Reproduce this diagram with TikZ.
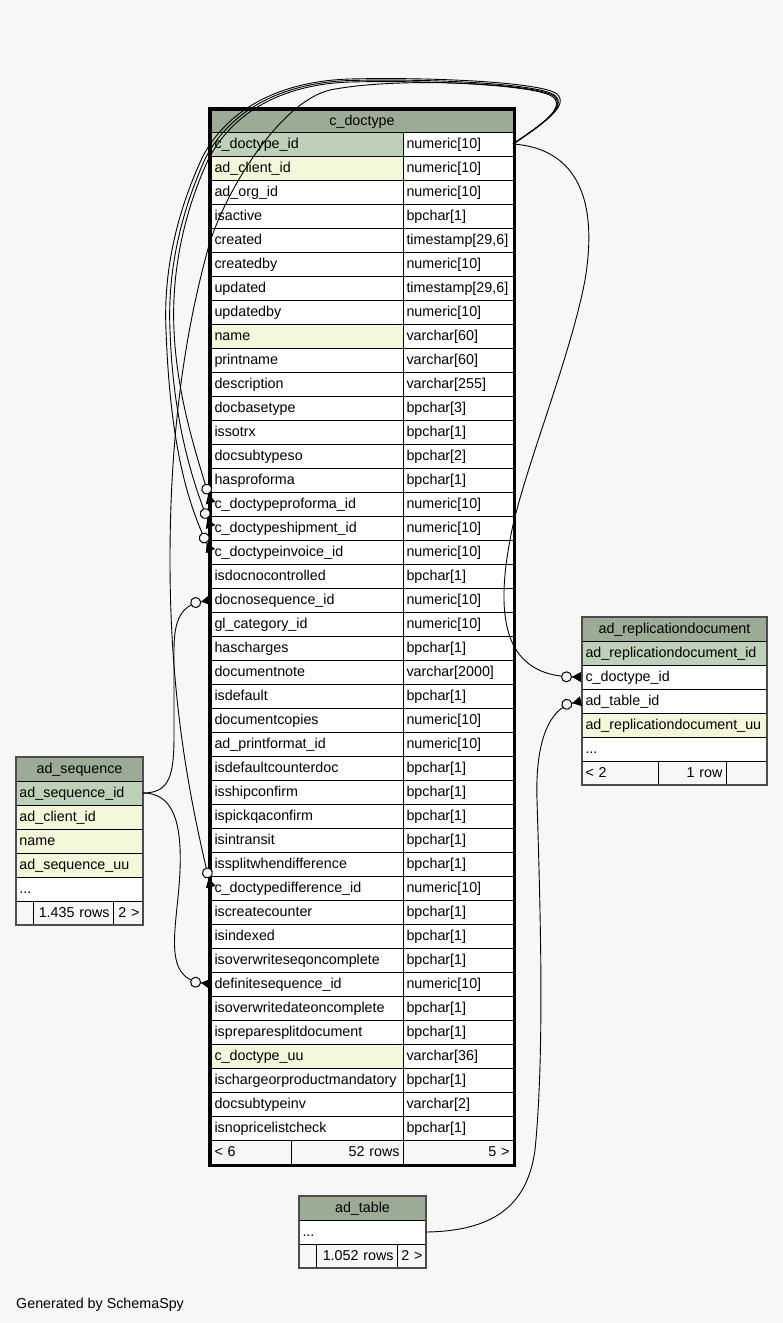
\documentclass[tikz,border=0pt]{standalone}
\usepackage{fontspec}
\setmainfont{Liberation Sans}
\usetikzlibrary{arrows.meta}
\definecolor{hdr}{HTML}{9BAB96}
\definecolor{pkc}{HTML}{BED1B8}
\definecolor{idx}{HTML}{F4F7DA}
\definecolor{bgc}{HTML}{F7F7F7}
\newcommand\cellfont{\fontsize{14.3}{16}\selectfont}
\newcommand\CDrow[4]{%
  \node[cellbase, fill=#4, text width=185pt, align=left] (cdt-#1) at (211,{132+24*#1}) {#2};
  \node[cellbase, fill=white, text width=103pt, align=left] (cdtt-#1) at (403,{132+24*#1}) {#3};
}
\begin{document}
\begin{tikzpicture}[x=1pt,y=-1pt,
  cellbase/.style={draw=black, line width=0.8pt, minimum height=24pt, inner xsep=3.5pt, inner ysep=0pt,
    text height=11pt, text depth=2pt, anchor=north west, font=\cellfont, outer sep=0pt},
  fk/.style={draw=black, line width=0.9pt, shorten >=1pt,
    -{Circle[fill=bgc, length=11pt, width=11pt, line width=1pt] Triangle[reversed, length=9pt, width=10pt]}},
  minorborder/.style={draw=black!70, line width=1.3pt},
  majorborder/.style={draw=black, line width=3pt}]
\useasboundingbox (0,0) rectangle (783,1323);
\fill[bgc] (0,0) rectangle (783,1323);

% ---------------- c_doctype ----------------
\node[cellbase, fill=hdr, minimum width=302pt, minimum height=22pt, align=center] (cdt-h) at (211,110) {c\_doctype};
\CDrow{0}{c\_doctype\_id}{numeric[10]}{pkc}
\CDrow{1}{ad\_client\_id}{numeric[10]}{idx}
\CDrow{2}{ad\_org\_id}{numeric[10]}{white}
\CDrow{3}{isactive}{bpchar[1]}{white}
\CDrow{4}{created}{timestamp[29,6]}{white}
\CDrow{5}{createdby}{numeric[10]}{white}
\CDrow{6}{updated}{timestamp[29,6]}{white}
\CDrow{7}{updatedby}{numeric[10]}{white}
\CDrow{8}{name}{varchar[60]}{idx}
\CDrow{9}{printname}{varchar[60]}{white}
\CDrow{10}{description}{varchar[255]}{white}
\CDrow{11}{docbasetype}{bpchar[3]}{white}
\CDrow{12}{issotrx}{bpchar[1]}{white}
\CDrow{13}{docsubtypeso}{bpchar[2]}{white}
\CDrow{14}{hasproforma}{bpchar[1]}{white}
\CDrow{15}{c\_doctypeproforma\_id}{numeric[10]}{white}
\CDrow{16}{c\_doctypeshipment\_id}{numeric[10]}{white}
\CDrow{17}{c\_doctypeinvoice\_id}{numeric[10]}{white}
\CDrow{18}{isdocnocontrolled}{bpchar[1]}{white}
\CDrow{19}{docnosequence\_id}{numeric[10]}{white}
\CDrow{20}{gl\_category\_id}{numeric[10]}{white}
\CDrow{21}{hascharges}{bpchar[1]}{white}
\CDrow{22}{documentnote}{varchar[2000]}{white}
\CDrow{23}{isdefault}{bpchar[1]}{white}
\CDrow{24}{documentcopies}{numeric[10]}{white}
\CDrow{25}{ad\_printformat\_id}{numeric[10]}{white}
\CDrow{26}{isdefaultcounterdoc}{bpchar[1]}{white}
\CDrow{27}{isshipconfirm}{bpchar[1]}{white}
\CDrow{28}{ispickqaconfirm}{bpchar[1]}{white}
\CDrow{29}{isintransit}{bpchar[1]}{white}
\CDrow{30}{issplitwhendifference}{bpchar[1]}{white}
\CDrow{31}{c\_doctypedifference\_id}{numeric[10]}{white}
\CDrow{32}{iscreatecounter}{bpchar[1]}{white}
\CDrow{33}{isindexed}{bpchar[1]}{white}
\CDrow{34}{isoverwriteseqoncomplete}{bpchar[1]}{white}
\CDrow{35}{definitesequence\_id}{numeric[10]}{white}
\CDrow{36}{isoverwritedateoncomplete}{bpchar[1]}{white}
\CDrow{37}{ispreparesplitdocument}{bpchar[1]}{white}
\CDrow{38}{c\_doctype\_uu}{varchar[36]}{idx}
\CDrow{39}{ischargeorproductmandatory}{bpchar[1]}{white}
\CDrow{40}{docsubtypeinv}{varchar[2]}{white}
\CDrow{41}{isnopricelistcheck}{bpchar[1]}{white}
\node[cellbase, fill=bgc, text width=73pt, align=left] (cdt-f1) at (211,1140) {< 6};
\node[cellbase, fill=bgc, text width=105pt, align=right] (cdt-f2) at (291,1140) {52 rows};
\node[cellbase, fill=bgc, text width=103pt, align=right] (cdt-f3) at (403,1140) {5 >};
\draw[majorborder] (209.5,108.5) rectangle (514.5,1165.5);

% ---------------- ad_replicationdocument ----------------
\node[cellbase, fill=hdr, minimum width=185pt, align=center] (rep-h) at (582,617) {ad\_replicationdocument};
\node[cellbase, fill=pkc, text width=178pt, align=left] (rep-1) at (582,641) {ad\_replicationdocument\_id};
\node[cellbase, fill=white, text width=178pt, align=left] (rep-2) at (582,665) {c\_doctype\_id};
\node[cellbase, fill=white, text width=178pt, align=left] (rep-3) at (582,689) {ad\_table\_id};
\node[cellbase, fill=idx, text width=178pt, align=left] (rep-4) at (582,713) {ad\_replicationdocument\_uu};
\node[cellbase, fill=white, text width=178pt, align=left] (rep-5) at (582,737) {...};
\node[cellbase, fill=bgc, text width=69pt, align=left] (rep-f1) at (582,761) {< 2};
\node[cellbase, fill=bgc, text width=61pt, align=right] (rep-f2) at (658,761) {1 row};
\node[cellbase, fill=bgc, text width=34pt, align=right] (rep-f3) at (726,761) {};
\draw[minorborder] (582,617) rectangle (767,785);

% ---------------- ad_sequence ----------------
\node[cellbase, fill=hdr, minimum width=127pt, align=center] (seq-h) at (16,757) {ad\_sequence};
\node[cellbase, fill=pkc, text width=120pt, align=left] (seq-1) at (16,781) {ad\_sequence\_id};
\node[cellbase, fill=idx, text width=120pt, align=left] (seq-2) at (16,805) {ad\_client\_id};
\node[cellbase, fill=idx, text width=120pt, align=left] (seq-3) at (16,829) {name};
\node[cellbase, fill=idx, text width=120pt, align=left] (seq-4) at (16,853) {ad\_sequence\_uu};
\node[cellbase, fill=white, text width=120pt, align=left] (seq-5) at (16,877) {...};
\node[cellbase, fill=bgc, text width=10pt, align=left] (seq-f1) at (16,901) {};
\node[cellbase, fill=bgc, text width=73pt, align=right] (seq-f2) at (33,901) {1.435 rows};
\node[cellbase, fill=bgc, text width=23pt, align=right] (seq-f3) at (113,901) {2 >};
\draw[minorborder] (16,757) rectangle (143,925);

% ---------------- ad_table ----------------
\node[cellbase, fill=hdr, minimum width=127pt, align=center] (tbl-h) at (299,1196) {ad\_table};
\node[cellbase, fill=white, text width=120pt, align=left] (tbl-1) at (299,1220) {...};
\node[cellbase, fill=bgc, text width=10pt, align=left] (tbl-f1) at (299,1244) {};
\node[cellbase, fill=bgc, text width=74pt, align=right] (tbl-f2) at (316,1244) {1.052 rows};
\node[cellbase, fill=bgc, text width=22pt, align=right] (tbl-f3) at (397,1244) {2 >};
\draw[minorborder] (299,1196) rectangle (426,1268);

% ---------------- connectors ----------------
% self references of c_doctype
\draw[fk] (cdtt-0.east) .. controls (540,126) and (566,108) .. (553,97)
  .. controls (538,85) and (430,80) .. (350,82)
  .. controls (288,84) and (236,108) .. (209,158)
  .. controls (187,205) and (171,265) .. (174,330)
  .. controls (177,400) and (199,462) .. (cdt-15.west);
\draw[fk] (cdtt-0.east) .. controls (541,125) and (568,107) .. (555,95.5)
  .. controls (540,83.5) and (430,78.5) .. (350,80.5)
  .. controls (286,82.5) and (233,107) .. (206,157)
  .. controls (184,205) and (167,265) .. (170,330)
  .. controls (173,420) and (192,480) .. (cdt-16.west);
\draw[fk] (cdtt-0.east) .. controls (542,124) and (570,106) .. (557,94)
  .. controls (542,82) and (430,77) .. (350,79)
  .. controls (284,81) and (230,106) .. (203,156)
  .. controls (180,205) and (163,265) .. (166,330)
  .. controls (170,440) and (186,500) .. (cdt-17.west);
\draw[fk] (cdtt-0.east) .. controls (541,125) and (567,107.5) .. (554,96)
  .. controls (538,84) and (400,76) .. (330,90)
  .. controls (280,102) and (226,190) .. (209,245)
  .. controls (194,300) and (170,400) .. (170,560)
  .. controls (170,700) and (190,800) .. (cdt-31.west);
% c_doctype -> ad_replicationdocument
\draw[fk] (cdtt-0.east) .. controls (570,148) and (600,190) .. (585,280)
  .. controls (570,360) and (520,480) .. (510,540)
  .. controls (495,620) and (505,676) .. (rep-2.west);
% ad_table -> ad_replicationdocument
\draw[fk] (tbl-1.east) .. controls (500,1231) and (528,1200) .. (535,1150)
  .. controls (545,1050) and (540,900) .. (537,800)
  .. controls (535,740) and (550,708) .. (rep-3.west);
% ad_sequence -> c_doctype
\draw[fk] (seq-1.east) .. controls (170,793) and (174,775) .. (174,735)
  -- (174,650) .. controls (174,620) and (181,605) .. (cdt-19.west);
\draw[fk] (seq-1.east) .. controls (172,793) and (182,820) .. (180,870)
  .. controls (178,925) and (160,978) .. (cdt-35.west);

\node[anchor=west, font=\cellfont, inner sep=0pt, text height=11pt, text depth=2pt] (gen) at (16,1304) {Generated by SchemaSpy};
\end{tikzpicture}
\end{document}
